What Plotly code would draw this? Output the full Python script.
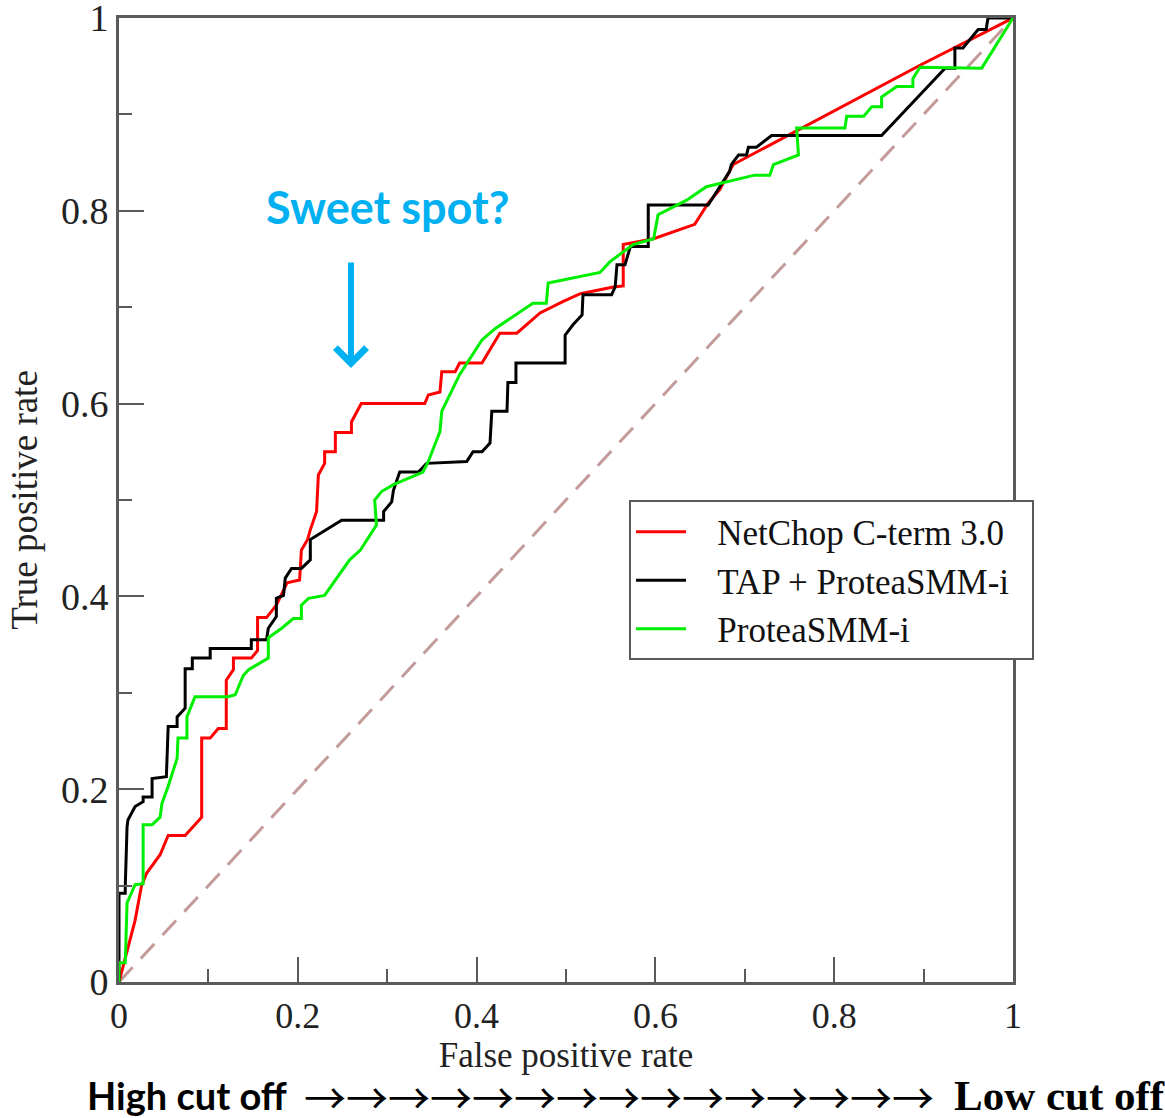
import plotly.graph_objects as go

# ---- data ----
netchop_fpr = [0.0, 0.018, 0.025, 0.031, 0.046, 0.055, 0.074, 0.0925, 0.0925, 0.102, 0.111, 0.120,
               0.120, 0.128, 0.128, 0.148, 0.155, 0.155, 0.165, 0.176, 0.188, 0.202, 0.204, 0.211,
               0.214, 0.221, 0.223, 0.230, 0.230, 0.242, 0.242, 0.260, 0.260, 0.271, 0.342, 0.346,
               0.359, 0.361, 0.376, 0.381, 0.406, 0.426, 0.445, 0.471, 0.497, 0.516, 0.553, 0.564,
               0.564, 0.598, 0.644, 0.659, 0.672, 0.687, 0.896, 1.0]
netchop_tpr = [0.0, 0.064, 0.099, 0.113, 0.132, 0.152, 0.152, 0.171, 0.253, 0.253, 0.263, 0.263,
               0.313, 0.324, 0.336, 0.336, 0.344, 0.378, 0.378, 0.391, 0.414, 0.417, 0.448, 0.459,
               0.469, 0.488, 0.526, 0.538, 0.550, 0.550, 0.570, 0.570, 0.581, 0.600, 0.600, 0.609,
               0.612, 0.633, 0.633, 0.642, 0.642, 0.673, 0.673, 0.694, 0.706, 0.714, 0.721, 0.722,
               0.765, 0.771, 0.786, 0.808, 0.822, 0.848, 0.951, 1.0]

tap_fpr = [0.0, 0.0, 0.007, 0.007, 0.009, 0.010, 0.018, 0.027, 0.027, 0.037, 0.037, 0.053, 0.055,
           0.065, 0.065, 0.074, 0.074, 0.082, 0.082, 0.102, 0.102, 0.148, 0.148, 0.165, 0.167,
           0.176, 0.176, 0.184, 0.186, 0.193, 0.204, 0.214, 0.214, 0.232, 0.249, 0.296, 0.296,
           0.305, 0.307, 0.314, 0.335, 0.344, 0.389, 0.396, 0.406, 0.415, 0.417, 0.434, 0.435,
           0.444, 0.444, 0.499, 0.499, 0.508, 0.518, 0.519, 0.551, 0.555, 0.557, 0.566, 0.570,
           0.572, 0.592, 0.592, 0.659, 0.672, 0.683, 0.685, 0.693, 0.702, 0.704, 0.713, 0.730,
           0.853, 0.924, 0.935, 0.935, 0.944, 0.961, 0.970, 0.972, 1.0]
tap_tpr = [0.0, 0.092, 0.092, 0.099, 0.161, 0.168, 0.182, 0.187, 0.192, 0.192, 0.211, 0.213, 0.265,
           0.265, 0.275, 0.284, 0.325, 0.325, 0.336, 0.336, 0.346, 0.346, 0.355, 0.355, 0.367,
           0.379, 0.398, 0.401, 0.419, 0.429, 0.429, 0.438, 0.459, 0.469, 0.479, 0.479, 0.488,
           0.498, 0.510, 0.529, 0.529, 0.538, 0.540, 0.550, 0.550, 0.559, 0.592, 0.592, 0.622,
           0.622, 0.642, 0.642, 0.671, 0.682, 0.692, 0.713, 0.713, 0.721, 0.744, 0.744, 0.756,
           0.763, 0.763, 0.806, 0.806, 0.825, 0.841, 0.848, 0.858, 0.858, 0.866, 0.866, 0.878,
           0.878, 0.948, 0.948, 0.969, 0.969, 0.988, 0.988, 1.0, 1.0]

smm_fpr = [0.0, 0.0, 0.007, 0.009, 0.018, 0.027, 0.027, 0.037, 0.046, 0.048, 0.055, 0.065, 0.066,
           0.076, 0.076, 0.085, 0.122, 0.130, 0.139, 0.145, 0.167, 0.167, 0.182, 0.195, 0.204,
           0.204, 0.212, 0.230, 0.258, 0.270, 0.288, 0.286, 0.294, 0.307, 0.340, 0.346, 0.359,
           0.361, 0.381, 0.406, 0.421, 0.463, 0.478, 0.480, 0.538, 0.549, 0.575, 0.598, 0.603,
           0.635, 0.657, 0.711, 0.728, 0.732, 0.760, 0.758, 0.812, 0.814, 0.833, 0.842, 0.853,
           0.853, 0.870, 0.888, 0.888, 0.896, 0.965, 1.0]
smm_tpr = [0.0, 0.020, 0.020, 0.082, 0.101, 0.102, 0.163, 0.163, 0.171, 0.185, 0.203, 0.232, 0.253,
           0.253, 0.275, 0.296, 0.296, 0.298, 0.318, 0.324, 0.336, 0.357, 0.367, 0.377, 0.377,
           0.391, 0.398, 0.401, 0.438, 0.448, 0.474, 0.500, 0.509, 0.516, 0.529, 0.540, 0.571,
           0.592, 0.630, 0.666, 0.678, 0.704, 0.704, 0.725, 0.736, 0.747, 0.765, 0.771, 0.796,
           0.811, 0.825, 0.837, 0.837, 0.848, 0.858, 0.886, 0.886, 0.898, 0.898, 0.908, 0.908,
           0.918, 0.929, 0.929, 0.937, 0.949, 0.948, 1.0]

random_x = [0.0, 1.0]
random_y = [0.0, 1.0]

series_names = ["NetChop C-term 3.0", "TAP + ProteaSMM-i", "ProteaSMM-i"]
tick_vals = [0, 0.2, 0.4, 0.6, 0.8, 1]
tick_text = ["0", "0.2", "0.4", "0.6", "0.8", "1"]

AX = "#5a5a5a"
SERIF = "Liberation Serif, Times New Roman, serif"
BLUE = "#00B0F0"
PAD = "\u00a0\u00a0\u00a0"
TAIL = "\u00a0\u00a0"

fig = go.Figure()
fig.add_trace(go.Scatter(x=random_x, y=random_y, mode="lines", showlegend=False, hoverinfo="skip",
                         line=dict(color="#C39B9B", width=3, dash="20px,12px")))
fig.add_trace(go.Scatter(x=netchop_fpr, y=netchop_tpr, mode="lines", name=PAD + series_names[0],
                         line=dict(color="#FF0000", width=3)))
fig.add_trace(go.Scatter(x=tap_fpr, y=tap_tpr, mode="lines", name=PAD + series_names[1] + TAIL,
                         line=dict(color="#000000", width=3)))
fig.add_trace(go.Scatter(x=smm_fpr, y=smm_tpr, mode="lines", name=PAD + series_names[2],
                         line=dict(color="#00EE00", width=3)))

def axis(size):
    return dict(
        range=[0, 1], tickvals=tick_vals, ticktext=tick_text,
        ticks="inside", ticklen=25, tickwidth=2, tickcolor=AX,
        minor=dict(dtick=0.1, tick0=0, ticks="inside", ticklen=13, tickwidth=2, tickcolor=AX),
        showline=True, linecolor=AX, linewidth=3, mirror=True,
        showgrid=False, zeroline=False, ticklabeloverflow="allow",
        tickfont=dict(family=SERIF, size=size, color="#222222"),
    )

fig.update_layout(
    width=1165, height=1118,
    margin=dict(l=119, r=152, t=18, b=136, autoexpand=False),
    plot_bgcolor="white", paper_bgcolor="white",
    xaxis=dict(**axis(36),
               title=dict(text="False positive rate", font=dict(family=SERIF, size=35, color="#222222"),
                          standoff=0)),
    yaxis=dict(**axis(38),
               title=dict(text="True positive rate", font=dict(family=SERIF, size=37, color="#222222"),
                          standoff=12)),
    legend=dict(x=0.5705, y=0.4995, xanchor="left", yanchor="top",
                bgcolor="white", bordercolor=AX, borderwidth=2,
                font=dict(family=SERIF, size=35, color="#111111"),
                itemwidth=50, tracegroupgap=0),
    showlegend=True,
)

# "Sweet spot?" annotation and arrow
fig.add_annotation(x=0.30, y=0.804, xref="x", yref="y", text="<b>Sweet spot?</b>",
                   showarrow=False, font=dict(family="Lato, Open Sans, sans-serif", size=45, color=BLUE))
fig.add_annotation(x=0.2595, y=0.637, ax=0.2595, ay=0.748, xref="x", yref="y", axref="x", ayref="y",
                   text="", showarrow=True, arrowhead=4, arrowsize=1.0, arrowwidth=6, arrowcolor=BLUE)

# bottom cut-off text
fig.add_annotation(x=-0.038, y=-0.1175, xref="paper", yref="paper", xanchor="left", yanchor="middle",
                   text="<b>High cut off</b>", showarrow=False,
                   font=dict(family="Lato, Open Sans, sans-serif", size=38, color="black"))
fig.add_annotation(x=0.2045, y=-0.1175, xref="paper", yref="paper", xanchor="left", yanchor="middle",
                   text="→" * 15, showarrow=False,
                   font=dict(family="Noto Sans CJK JP", size=42, color="black"))
fig.add_annotation(x=0.932, y=-0.1175, xref="paper", yref="paper", xanchor="left", yanchor="middle",
                   text="<b>Low cut off</b>", showarrow=False,
                   font=dict(family=SERIF, size=43, color="black"))

fig.write_html("out.html", config={"displayModeBar": False},
               post_script="document.body.style.margin='0px';document.body.style.overflow='hidden';")
